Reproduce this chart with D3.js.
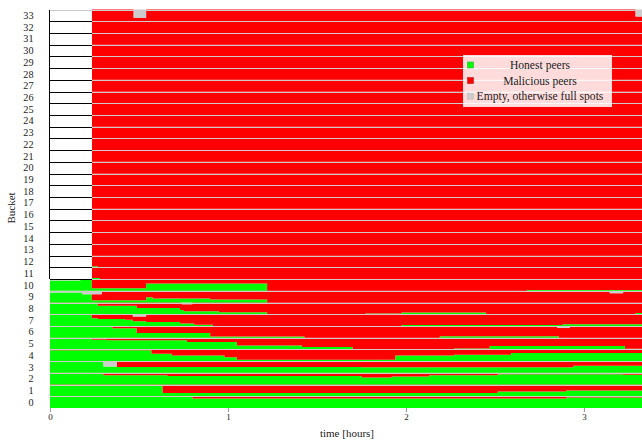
<!DOCTYPE html>
<meta charset="utf-8">
<style>
    body { margin: 0; background: #fff; }
    text {
        font-family: "Liberation Serif", "Times New Roman", serif;
        fill: #222;
    }
    .xAxis .tick line { stroke: #999; }
    .xAxis .tick text { font-size: 9px; }
    .yLabel { font-size: 10.2px; }
    .sep { stroke: #d2caca; stroke-width: 1; shape-rendering: crispEdges; }
    .boxLine { stroke: #000; stroke-width: 1; shape-rendering: crispEdges; }
    .legend text { font-size: 11.6px; }
</style>

<body>
    <svg width="642" height="440"></svg>
</body>

<script src="https://d3js.org/d3.v7.min.js"></script>
<script>

    // ---- data ----
    var buckets = [0, 1, 2, 3, 4, 5, 6, 7, 8, 9, 10, 11, 12, 13, 14, 15, 16,
                   17, 18, 19, 20, 21, 22, 23, 24, 25, 26, 27, 28, 29, 30, 31, 32, 33];
    var xTicks = [0, 1, 2, 3];
    var timeMax = 3.326;
    var fillTime = 0.235;       // buckets 11..33 only exist from here on

    // honest share of a bucket, as [from time, share] steps (index = bucket)
    var honestSteps = [
        [[0, 0.93], [0.80, 0.82], [2.90, 0.9]],
        [[0, 0.92], [0.30, 0.88], [0.633, 0.27], [2.515, 0.4], [2.90, 0.5]],
        [[0, 0.93], [0.30, 0.8], [0.66, 0.72], [1.75, 0.6], [1.92, 0.68], [2.13, 0.8], [2.515, 0.88], [3.22, 0.83]],
        [[0, 0.95], [0.30, 0.55], [0.375, 0.5], [1.75, 0.47], [2.94, 0.6]],
        [[0, 0.93], [0.57, 0.62], [0.684, 0.47], [0.98, 0.32], [1.05, 0.12], [1.94, 0.47], [2.27, 0.55], [2.59, 0.7]],
        [[0, 0.97], [0.235, 0.83], [0.32, 0.77], [0.77, 0.63], [1.05, 0.34], [1.415, 0.2], [1.70, 0], [2.27, 0.08], [2.47, 0.28], [3.23, 0.06]],
        [[0, 0.95], [0.35, 0.8], [0.487, 0.4], [0.90, 0.1], [1.43, 0], [2.19, 0.12], [2.86, 0]],
        [[0, 0.93], [0.235, 0.65], [0.268, 0.6], [0.42, 0.52], [0.465, 0.4], [0.54, 0.33], [0.73, 0.22], [0.81, 0.1], [0.915, 0], [1.975, 0.08], [2.88, 0.15]],
        [[0, 0.97], [0.268, 0.73], [0.487, 0.53], [0.73, 0.37], [0.75, 0.26], [0.95, 0.17], [1.22, 0], [1.77, 0.06], [1.975, 0.14], [2.45, 0], [3.29, 0.1]],
        [[0, 0.85], [0.18, 0.7], [0.235, 0.2], [0.54, 0.45], [0.577, 0.35], [0.90, 0.25], [1.22, 0]],
        [[0, 0.88], [0.17, 0.95], [0.235, 0.22], [0.54, 0.63], [1.22, 0], [2.68, 0.06]],
        [[0.235, 0.1], [0.28, 0]],
        [[0.235, 0.1], [0.27, 0]]
    ];

    // empty spots: [bucket, from time, to time, share]
    var emptyPatches = [
        [3, 0.30, 0.375, 0.45],
        [6, 2.85, 2.92, 0.15],
        [7, 0.465, 0.54, 0.2],
        [8, 0.20, 0.268, 0.1],
        [8, 0.74, 0.80, 0.15],
        [9, 0, 0.18, 0.15],
        [9, 0.18, 0.29, 0.3],
        [9, 3.145, 3.22, 0.2],
        [10, 0, 0.17, 0.12],
        [13, 0.44, 0.53, 0.1],
        [33, 0.47, 0.54, 0.7],
        [33, 3.29, 3.326, 0.6]
    ];

    var legendLabels = ["Honest peers", "Malicious peers", "Empty, otherwise full spots"];
    var legendColors = ["#00ff00", "#ff0000", "#cccccc"];
    var legendStrokes = ["#33aa33", "#bb2222", "#bbbbbb"];

    // ---- chart ----
    var svg = d3.select("svg"),
        g = svg.append("g");

    var x = d3.scaleLinear().domain([0, timeMax]).range([50, 642]);
    var yBand = d3.scaleBand()
            .domain(buckets.slice().reverse())
            .range([9.5, 408]);

    // position of a share (0 = bottom, 1 = top) inside a bucket
    function inner(b, f) {
        return yBand(b) + yBand.bandwidth() * (1 - f);
    }

    function seriesFor(b) {
        var start = b > 10 ? fillTime : 0;
        var steps = honestSteps[b] || [];
        var patches = emptyPatches.filter(function (p) { return p[0] === b; });
        var cuts = [start, timeMax];
        steps.forEach(function (s) { cuts.push(s[0]); });
        patches.forEach(function (p) { cuts.push(p[1], p[2]); });
        cuts = Array.from(new Set(cuts))
                .filter(function (t) { return t >= start && t <= timeMax; })
                .sort(function (a, c) { return a - c; });
        return cuts.map(function (t) {
            var h = 0, e = 0;
            steps.forEach(function (s) { if (s[0] <= t) h = s[1]; });
            patches.forEach(function (p) { if (p[1] <= t && t < p[2]) e = p[3]; });
            return {t: t, h: h, e: e};
        });
    }

    buckets.forEach(function (b) {
        var data = seriesFor(b);
        var layers = [
            {color: "#00ff00", lo: function (d) { return 0; }, hi: function (d) { return d.h; }},
            {color: "#ff0000", lo: function (d) { return d.h; }, hi: function (d) { return 1 - d.e; }},
            {color: "#cccccc", lo: function (d) { return 1 - d.e; }, hi: function (d) { return 1; }}
        ];
        layers.forEach(function (l) {
            var area = d3.area()
                    .curve(d3.curveStepAfter)
                    .x(function (d) { return x(d.t); })
                    .y0(function (d) { return inner(b, l.lo(d)); })
                    .y1(function (d) { return inner(b, l.hi(d)); });
            g.append("path")
                    .datum(data)
                    .attr("fill", l.color)
                    .attr("d", area);
        });

        // upper buckets are still empty boxes before fillTime
        if (b > 10) {
            g.append("rect")
                    .attr("x", x(0))
                    .attr("y", yBand(b))
                    .attr("width", x(fillTime) - x(0))
                    .attr("height", yBand.bandwidth())
                    .attr("fill", "#fff");
        }
    });

    // bucket separators
    buckets.forEach(function (b) {
        var yTop = Math.round(yBand(b)) + 0.5;
        g.append("line")
                .attr("class", "sep")
                .attr("x1", b >= 10 && b < 33 ? x(fillTime) : x(0))
                .attr("x2", x(timeMax))
                .attr("y1", yTop).attr("y2", yTop);
        if (b >= 10 && b < 33) {
            g.append("line")
                    .attr("class", "boxLine")
                    .attr("x1", x(0)).attr("x2", x(fillTime))
                    .attr("y1", yTop).attr("y2", yTop);
        }
    });
    g.append("line")
            .attr("class", "boxLine")
            .attr("x1", x(0) - 0.5).attr("x2", x(0) - 0.5)
            .attr("y1", yBand(33)).attr("y2", yBand(11) + yBand.bandwidth());

    // y labels
    g.selectAll(".yLabel")
            .data(buckets)
            .enter().append("text")
            .attr("class", "yLabel")
            .attr("x", 33.5)
            .attr("y", function (d) { return yBand(d) + yBand.bandwidth() / 2; })
            .attr("dy", "0.35em")
            .style("text-anchor", "end")
            .text(function (d) { return d; });

    // x axis
    var xAxis = g.append("g")
            .attr("class", "xAxis")
            .attr("transform", "translate(0,408)")
            .call(d3.axisBottom(x)
                    .tickValues(xTicks)
                    .tickFormat(d3.format("d"))
                    .tickSize(4)
                    .tickPadding(2));
    xAxis.select(".domain").remove();
    xAxis.selectAll("text").style("font-family", "'Liberation Serif', serif").attr("fill", "#222");

    g.append("text")
            .attr("x", 347)
            .attr("y", 437)
            .style("text-anchor", "middle")
            .style("font-size", "11px")
            .text("time [hours]");

    g.append("text")
            .attr("transform", "translate(15,208) rotate(-90)")
            .style("text-anchor", "middle")
            .style("font-size", "11px")
            .text("Bucket");

    // legend
    var legend = g.append("g").attr("class", "legend");
    legend.append("rect")
            .attr("x", 463).attr("y", 55)
            .attr("width", 149).attr("height", 52)
            .attr("fill", "#fff")
            .attr("fill-opacity", 0.86);
    var item = legend.selectAll(".item")
            .data(legendLabels)
            .enter().append("g")
            .attr("class", "item")
            .attr("transform", function (d, i) { return "translate(0," + (65 + i * 15.6) + ")"; });
    item.append("rect")
            .attr("x", 467.5).attr("y", -3)
            .attr("width", 6).attr("height", 6)
            .attr("fill", function (d, i) { return legendColors[i]; })
            .attr("stroke", function (d, i) { return legendStrokes[i]; })
            .attr("stroke-width", 0.6);
    item.append("text")
            .attr("x", 540)
            .attr("dy", "0.35em")
            .style("text-anchor", "middle")
            .text(function (d) { return d; });

</script>
